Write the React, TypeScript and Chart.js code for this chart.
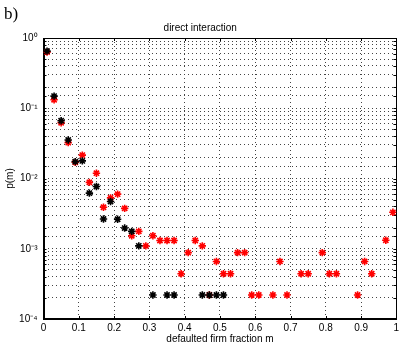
import React, { useEffect, useRef } from "react";
import { Chart, registerables } from "chart.js";

Chart.register(...registerables);

// defaulted firm fraction m (bin centres) and p(m) for the two series
const blackM = [0.01, 0.03, 0.05, 0.07, 0.09, 0.11, 0.13, 0.15, 0.17, 0.19, 0.21, 0.23, 0.25, 0.27, 0.31, 0.35, 0.37, 0.45, 0.47, 0.49, 0.51];
const blackP = [0.65, 0.149, 0.0665, 0.0354, 0.0174, 0.0178, 0.0062, 0.0077, 0.00265, 0.0047, 0.00263, 0.00197, 0.00177, 0.0011, 0.00022, 0.00022, 0.00022, 0.00022, 0.00022, 0.00022, 0.00022];

const redM = [0.01, 0.03, 0.05, 0.07, 0.09, 0.11, 0.13, 0.15, 0.17, 0.19, 0.21, 0.23, 0.25, 0.27, 0.29, 0.31, 0.33, 0.35, 0.37, 0.39, 0.41, 0.43, 0.45, 0.47, 0.49, 0.51, 0.53, 0.55, 0.57, 0.59, 0.61, 0.65, 0.67, 0.69, 0.73, 0.75, 0.79, 0.81, 0.83, 0.89, 0.91, 0.93, 0.97, 0.99];
const redP = [0.63, 0.132, 0.0622, 0.0324, 0.017, 0.0215, 0.0088, 0.0119, 0.0039, 0.0053, 0.006, 0.00375, 0.00153, 0.00177, 0.0011, 0.00153, 0.00131, 0.00131, 0.00131, 0.00044, 0.00088, 0.00131, 0.0011, 0.00022, 0.00066, 0.00044, 0.00044, 0.00088, 0.00088, 0.00022, 0.00022, 0.00022, 0.00066, 0.00022, 0.00044, 0.00044, 0.00088, 0.00044, 0.00044, 0.00022, 0.00066, 0.00044, 0.00132, 0.0033];

const xTickValues = [0, 0.1, 0.2, 0.3, 0.4, 0.5, 0.6, 0.7, 0.8, 0.9, 1];
const yMin = 1e-4;
const yMax = 1;

const titleText = "direct interaction";
const xTitle = "defaulted firm fraction m";
const yTitle = "p(m)";
const panelLabel = "b)";

const FONT = "'Liberation Sans', Arial, Helvetica, sans-serif";
const SUP: Record<string, string> = { "0": "⁰", "1": "¹", "2": "²", "3": "³", "4": "⁴", "5": "⁵", "6": "⁶", "7": "⁷", "8": "⁸", "9": "⁹", "-": "⁻" };

const boxPlugin = {
  id: "matlabBox",
  beforeDatasetsDraw(chart: any) {
    const { ctx, chartArea } = chart;
    const { left, right, top, bottom } = chartArea;
    const xs = chart.scales.x;
    const ys = chart.scales.y;
    ctx.save();
    ctx.strokeStyle = "#000";
    ctx.lineWidth = 1;
    ctx.setLineDash([]);
    ctx.beginPath();
    const tl = 3;
    xTickValues.forEach((v) => {
      const px = Math.round(xs.getPixelForValue(v)) + 0.5;
      ctx.moveTo(px, bottom);
      ctx.lineTo(px, bottom - tl);
      ctx.moveTo(px, top);
      ctx.lineTo(px, top + tl);
    });
    ys.ticks.forEach((t: any) => {
      const py = Math.round(ys.getPixelForValue(t.value)) + 0.5;
      ctx.moveTo(left, py);
      ctx.lineTo(left + tl, py);
      ctx.moveTo(right, py);
      ctx.lineTo(right - tl, py);
    });
    ctx.stroke();
    ctx.strokeRect(Math.round(left) + 0.5, Math.round(top) + 0.5, Math.round(right - left) - 1, Math.round(bottom - top) - 1);
    ctx.restore();
  },
};

export default function App() {
  const ref = useRef<HTMLCanvasElement | null>(null);

  useEffect(() => {
    if (!ref.current) return;
    const chart = new Chart(ref.current, {
      type: "scatter",
      data: {
        datasets: [
          {
            label: "black",
            data: blackM.map((m, i) => ({ x: m, y: blackP[i] })),
            pointStyle: "star",
            radius: 3.7,
            borderWidth: 1.6,
            borderColor: "#000000",
            backgroundColor: "#000000",
          },
          {
            label: "red",
            data: redM.map((m, i) => ({ x: m, y: redP[i] })),
            pointStyle: "star",
            radius: 3.7,
            borderWidth: 1.6,
            borderColor: "#ff0000",
            backgroundColor: "#ff0000",
          },
        ],
      },
      options: {
        animation: false,
        responsive: false,
        devicePixelRatio: 1,
        layout: { padding: { top: 0, left: 0, right: 1.5, bottom: 0 } },
        plugins: {
          legend: { display: false },
          tooltip: { enabled: false },
          title: {
            display: true,
            text: titleText,
            color: "#000",
            font: { family: FONT, size: 10, weight: "normal", lineHeight: 1.2 },
            padding: { top: 22, bottom: 4 },
          },
        },
        scales: {
          x: {
            type: "linear",
            min: 0,
            max: 1,
            afterBuildTicks: (s: any) => {
              s.ticks = xTickValues.map((v) => ({ value: v }));
            },
            afterFit: (s: any) => {
              s.height = 26;
              s.paddingLeft = 0;
              s.paddingRight = 0;
            },
            ticks: {
              color: "#000",
              font: { family: FONT, size: 10 },
              padding: 3,
              maxRotation: 0,
              autoSkip: false,
              callback: (v: any) => String(Math.round(Number(v) * 10) / 10),
            },
            grid: {
              drawTicks: false,
              color: "#444",
              lineWidth: 1,
            },
            border: { display: true, color: "#000", dash: [1, 3] },
            title: {
              display: true,
              text: xTitle,
              color: "#000",
              font: { family: FONT, size: 10 },
              padding: { top: 0, bottom: 0 },
            },
          },
          y: {
            type: "logarithmic",
            min: yMin,
            max: yMax,
            afterFit: (s: any) => {
              s.width = 43.5;
              s.paddingTop = 0;
              s.paddingBottom = 0;
            },
            ticks: {
              color: "#000",
              font: { family: FONT, size: 10 },
              padding: 6,
              autoSkip: false,
              callback: (v: any) => {
                const e = Math.log10(Number(v));
                const r = Math.round(e);
                if (Math.abs(e - r) > 1e-6) return "";
                return "10" + String(r).split("").map((c) => SUP[c] || c).join("");
              },
            },
            grid: {
              drawTicks: false,
              color: "#444",
              lineWidth: 1,
            },
            border: { display: true, color: "#000", dash: [1, 3] },
            title: {
              display: true,
              text: yTitle,
              color: "#000",
              font: { family: FONT, size: 10 },
              padding: { top: 4, bottom: 0 },
            },
          },
        },
      },
      plugins: [boxPlugin],
    } as any);
    return () => chart.destroy();
  }, []);

  return (
    <div style={{ position: "fixed", left: 0, top: 0, width: 402, height: 345, background: "#fff" }}>
      <canvas ref={ref} width={402} height={345} style={{ width: 402, height: 345, display: "block" }} />
      <span
        style={{
          position: "absolute",
          left: 4,
          top: 5,
          fontFamily: "'Liberation Serif', 'Times New Roman', serif",
          fontSize: 17,
          lineHeight: "17px",
          color: "#000",
        }}
      >
        {panelLabel}
      </span>
    </div>
  );
}
